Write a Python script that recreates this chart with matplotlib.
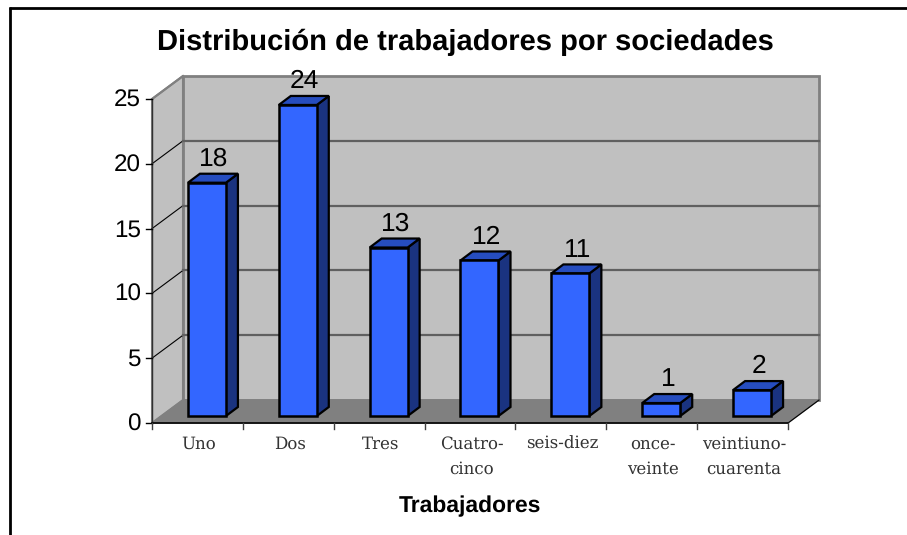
import matplotlib
matplotlib.use("Agg")
import matplotlib.pyplot as plt

plt.rcParams["text.hinting"] = "no_hinting"

categories = ["Uno", "Dos", "Tres", "Cuatro-\ncinco", "seis-diez", "once-\nveinte", "veintiuno-\ncuarenta"]
values = [18, 24, 13, 12, 11, 1, 2]
y_ticks = [0, 5, 10, 15, 20, 25]
title = "Distribución de trabajadores por sociedades"
x_title = "Trabajadores"

W, H = 907, 535
fig = plt.figure(figsize=(W / 100, H / 100), dpi=100, facecolor="white")
# Front plane of the 3-D box: x 152..788 px, y 423..99 px
ax = fig.add_axes([152 / W, 1 - 423 / H, (788 - 152) / W, (423 - 99) / H])
ax.set_xlim(0, len(categories))
ax.set_ylim(0, 25)
ax.axis("off")

ux = (788 - 152) / len(categories)
uy = (423 - 99) / 25
DX, DY = 31 / ux, 23 / uy          # box depth in data units
dx, dy = 12 / ux, 9 / uy           # bar depth in data units
by = 7 / uy                        # bar front offset on floor
bw = 38 / ux
nc = len(categories)
ym = y_ticks[-1]
WALL = "#C0C0C0"
FLOOR = "#808080"
EDGE = "#808080"

def poly(xs, ys, fc, ec, lw=1.5, z=1):
    ax.fill(xs, ys, facecolor=fc, edgecolor=ec, linewidth=lw, zorder=z, clip_on=False, joinstyle="miter")

# walls
poly([0, DX, DX, 0], [0, DY, ym + DY, ym], WALL, EDGE, 1.5, 1)
poly([DX, nc + DX, nc + DX, DX], [DY, DY, ym + DY, ym + DY], WALL, EDGE, 2, 1)
poly([0, nc, nc + DX, DX], [0, 0, DY, DY], FLOOR, FLOOR, 1, 2)
# gridlines
for t in y_ticks[1:-1]:
    ax.plot([0, DX], [t, t + DY], color="#000000", lw=0.8, zorder=3, clip_on=False)
    ax.plot([DX, nc + DX], [t + DY, t + DY], color="#606060", lw=1.6, zorder=3, clip_on=False)
# axis lines and ticks
ax.plot([0, 0], [0, ym], color="#303030", lw=1.0, zorder=4, clip_on=False)
ax.plot([0, nc], [0, 0], color="#000000", lw=1.2, zorder=4, clip_on=False)
ax.plot([nc, nc + DX], [0, DY], color="#000000", lw=0.8, zorder=4, clip_on=False)
ax.plot([0, DX], [ym, ym + DY], color="#808080", lw=1.5, zorder=4, clip_on=False)
for t in y_ticks:
    ax.plot([-6 / ux, 0], [t, t], color="#000000", lw=1.0, zorder=4, clip_on=False)
    ax.text(-11 / ux, t - 1.5 / uy, str(t), ha="right", va="center", fontsize=17.5,
            family="Liberation Sans", color="black")
for i in range(nc + 1):
    ax.plot([i, i], [0, -6 / uy], color="#404040", lw=1.0, zorder=4, clip_on=False)

# bars
centers = [i + 0.5 + 9.5 / ux for i in range(nc)]
ax.bar(centers, values, width=bw, bottom=by, color="#3366FF", edgecolor="black", linewidth=1.8, zorder=6)
for c, v in zip(centers, values):
    l, r = c - bw / 2, c + bw / 2
    top = by + v
    poly([r, r + dx, r + dx, r], [by, by + dy, top + dy, top], "#1A3380", "black", 1.6, 5)
    poly([l, l + dx, r + dx, r], [top, top + dy, top + dy, top], "#264DBF", "black", 1.6, 5)
    ax.text(c + 7 / ux, top + dy + 2.5 / uy, str(v), ha="center", va="bottom", fontsize=19,
            family="Liberation Sans", color="black", zorder=7)

# category labels
for i, c in enumerate(categories):
    ax.text(i + 0.5 + 1.5 / ux, -13 / uy, c, ha="center", va="top", fontsize=12, family="DejaVu Serif",
            color="#333333", linespacing=1.65)

fig.text(465 / W, 1 - 42 / H, title, ha="center", va="center", fontsize=21, fontweight="bold",
         family="Liberation Sans")
fig.text(470 / W, 1 - 506 / H, x_title, ha="center", va="center", fontsize=16.5, fontweight="bold",
         family="Liberation Sans")

# outer frame: left and top edges only
frame = dict(color="black", lw=2, solid_capstyle="butt")
fig.add_artist(plt.Line2D([9.5 / W, 9.5 / W], [0, 1 - 6.5 / H], **frame))
fig.add_artist(plt.Line2D([8.5 / W, 1], [1 - 7.5 / H, 1 - 7.5 / H], **frame))

fig.savefig("out.png", dpi=100, facecolor="white")
